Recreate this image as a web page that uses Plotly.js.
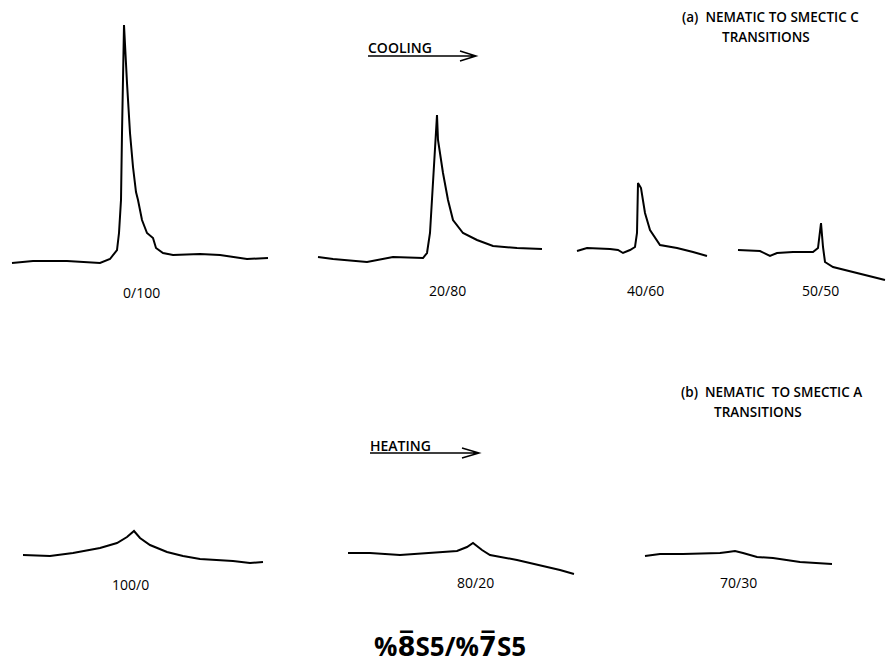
<!DOCTYPE html>
<html>
<head>
<meta charset="utf-8">
<script src="https://cdn.plot.ly/plotly-3.0.1.min.js"></script>
<style>html,body{margin:0;padding:0;background:#fff;}#chart{width:896px;height:667px;}</style>
</head>
<body>
<div id="chart"></div>
<script>
// Curves (x: horizontal position, y: vertical position, page units, downward)
const c0_100_x = [12,33,67,100,110,117,119,121,122,124,127,130,133,136,138,142,147,153,156,163,173,200,220,233,247,268];
const c0_100_y = [263,261,261,263,259,250,233,200,133,25,83,133,167,192,200,220,233,238,248,253,255,254,255,257,259,258];

const c20_80_x = [318,333,367,393,423,427,430,433,437,438,443,448,453,463,477,493,517,542];
const c20_80_y = [257,259,262,257,258,253,233,183,115,140,173,200,220,233,240,246,248,249];

const c40_60_x = [577,587,610,618,623,630,635,637,638,641,645,650,660,677,693,707];
const c40_60_y = [251,248,249,250,253,250,247,233,183,188,213,230,245,248,252,256];

const c50_50_x = [738,760,770,777,793,813,818,821,823,825,833,853,870,885];
const c50_50_y = [250,251,256,253,252,252,248,223,247,262,267,272,277,280];

const c100_0_x = [23,50,73,100,117,127,134,140,150,167,183,200,233,250,263];
const c100_0_y = [555,556,553,548,543,537,531,538,545,552,556,559,561,563,562];

const c80_20_x = [348,370,400,433,457,467,473,482,490,517,540,560,574];
const c80_20_y = [553,553,555,553,551,547,543,550,555,560,565,570,574];

const c70_30_x = [645,660,683,720,728,735,743,757,773,800,832];
const c70_30_y = [556,554,554,553,552,551,553,557,558,562,564];

const sampleLabels = ["0/100","20/80","40/60","50/50","100/0","80/20","70/30"];
const labelX = [141,447,645,820,130,475,738];
const labelY = [292,290,290,290,584,582,582];

const curves = [
  [c0_100_x,c0_100_y],[c20_80_x,c20_80_y],[c40_60_x,c40_60_y],[c50_50_x,c50_50_y],
  [c100_0_x,c100_0_y],[c80_20_x,c80_20_y],[c70_30_x,c70_30_y]
];

const FONT = "Open Sans, DejaVu Sans, sans-serif";

const traces = curves.map((c,i)=>({
  x:c[0], y:c[1], mode:'lines', type:'scatter', name:sampleLabels[i],
  line:{color:'#000', width:2, shape:'linear'}, hoverinfo:'skip', showlegend:false
}));

const annotations = sampleLabels.map((t,i)=>({
  x:labelX[i], y:labelY[i], xref:'x', yref:'y', text:t, showarrow:false,
  font:{family:FONT, size:14, color:'#000'}, xanchor:'center', yanchor:'middle'
}));

const notes = [
  {x:680,y:17,text:"(a)  NEMATIC TO SMECTIC C",size:13.5},
  {x:720,y:37,text:"TRANSITIONS",size:13.5},
  {x:679,y:392,text:"(b)  NEMATIC  TO SMECTIC A",size:13.5},
  {x:712,y:412,text:"TRANSITIONS",size:13.5},
  {x:366,y:47,text:"COOLING",size:14},
  {x:368,y:445,text:"HEATING",size:14}
];
notes.forEach(n=>annotations.push({
  x:n.x,y:n.y,xref:'x',yref:'y',text:n.text,showarrow:false,xanchor:'left',yanchor:'middle',
  font:{family:FONT,size:n.size,color:'#000',weight:600}
}));
annotations.push({
  x:450,y:646,xref:'x',yref:'y',text:"<b>%8\u0305S5/%7\u0305S5</b>",showarrow:false,
  xanchor:'center',yanchor:'middle',font:{family:FONT,size:26,color:'#000'}
});

const shapes = [
  {type:'path',xref:'x',yref:'y',path:'M368,56 L476,56 M460,51 L476,56 L460,61',line:{color:'#000',width:1.5}},
  {type:'path',xref:'x',yref:'y',path:'M370,453 L479,453 M462,448 L479,453 L462,458',line:{color:'#000',width:1.5}}
];

const layout = {
  width:896, height:667, margin:{l:0,r:0,t:0,b:0},
  paper_bgcolor:'#fff', plot_bgcolor:'#fff',
  xaxis:{range:[0,896], visible:false, fixedrange:true},
  yaxis:{range:[667,0], visible:false, fixedrange:true},
  annotations:annotations, shapes:shapes, showlegend:false
};

Plotly.newPlot('chart', traces, layout, {displayModeBar:false, staticPlot:true});
</script>
</body>
</html>
